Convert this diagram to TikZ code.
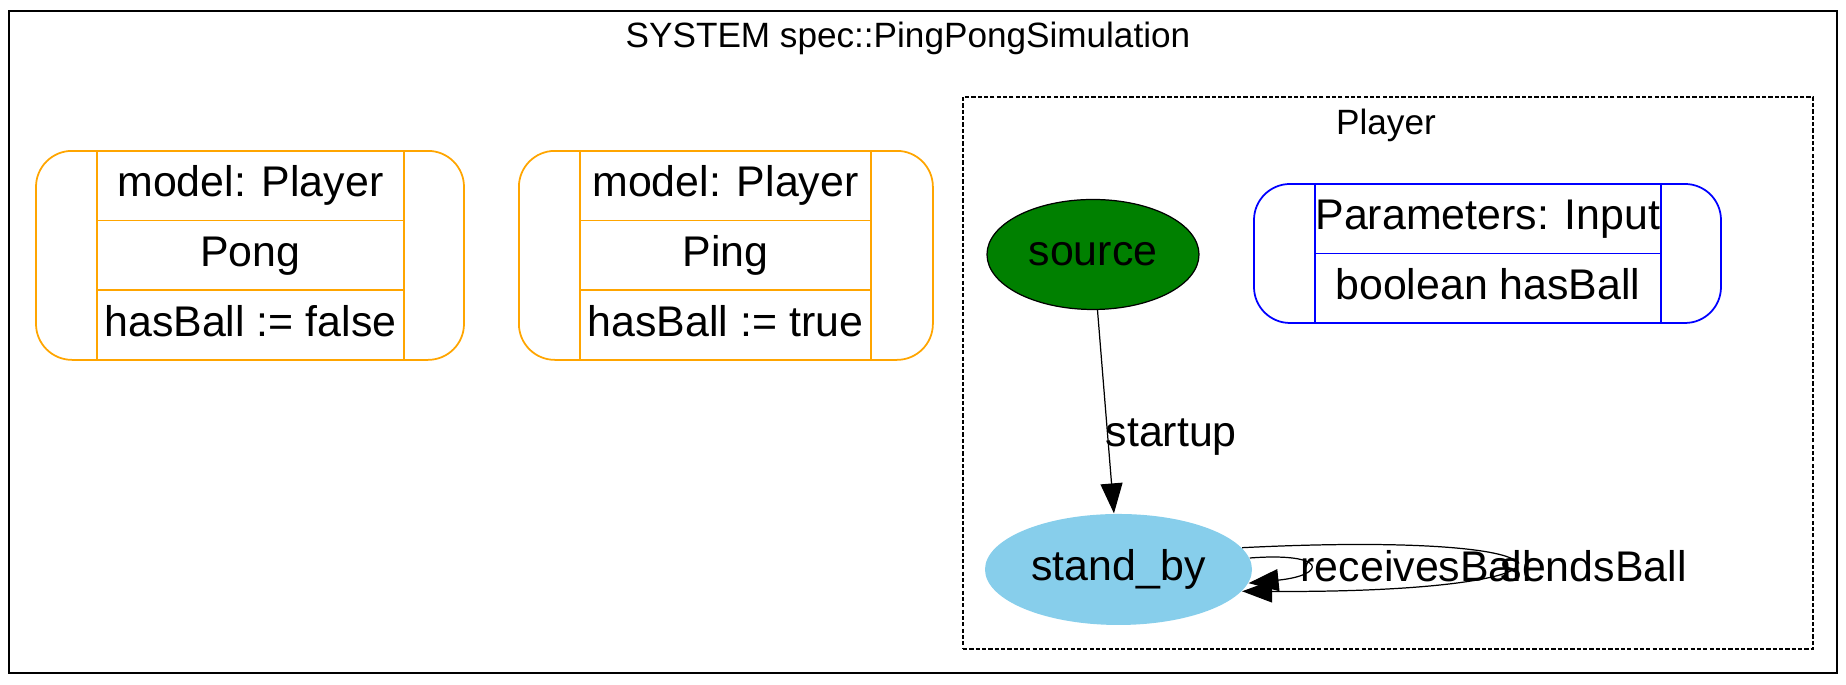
\documentclass[tikz,border=0pt]{standalone}
\usepackage{fontspec}
\setmainfont{Liberation Sans}
\usetikzlibrary{shapes.geometric,arrows.meta,positioning}
\definecolor{recordorange}{HTML}{FFA500}
\definecolor{sourcegreen}{HTML}{008000}
\definecolor{standbyblue}{HTML}{87CEEB}
\begin{document}
\begin{tikzpicture}[
    bigfont/.style={font=\fontsize{12.2}{14}\selectfont},
    smallfont/.style={font=\fontsize{10}{12}\selectfont},
    record/.style={draw=#1, rounded corners=0.36cm, line width=0.5pt, inner sep=0pt},
    field/.style={draw=#1, line width=0.5pt, inner sep=0pt, outer sep=0pt, minimum height=0.697cm, text height=0.325cm, text depth=0.10cm, bigfont},
    state/.style={ellipse, inner sep=0pt, line width=0.35pt, bigfont},
    trans/.style={-{Triangle[length=0.3cm, width=0.22cm]}, line width=0.35pt},
    translabel/.style={inner sep=0pt, bigfont}
]
    \useasboundingbox (0,0) rectangle (18.46,6.85);
    %   Outer frame of the system with its title
    \node[draw=black, line width=0.5pt, inner sep=0pt, minimum width=18.28cm, minimum height=6.62cm] (system) at (9.23,3.43) {};
    \node[smallfont, anchor=base] (systemtitle) at (9.08,6.37) {SYSTEM spec::PingPongSimulation};

    %   Record for the Pong player
    \node[record=recordorange, minimum width=4.28cm, minimum height=2.09cm] (pong) at (2.50,4.296) {};
    \node[field=recordorange, minimum width=3.07cm] (pongmodel) at (2.504,4.994) {model: Player};
    \node[field=recordorange, minimum width=3.07cm, below=0pt of pongmodel] (pongname) {Pong};
    \node[field=recordorange, minimum width=3.07cm, below=0pt of pongname] (pongvalue) {hasBall := false};

    %   Record for the Ping player
    \node[record=recordorange, minimum width=4.14cm, minimum height=2.09cm] (ping) at (7.259,4.296) {};
    \node[field=recordorange, minimum width=2.91cm] (pingmodel) at (7.254,4.994) {model: Player};
    \node[field=recordorange, minimum width=2.91cm, below=0pt of pingmodel] (pingname) {Ping};
    \node[field=recordorange, minimum width=2.91cm, below=0pt of pingname] (pingvalue) {hasBall := true};

    %   Dashed frame of the Player model
    \node[draw=black, line width=0.35pt, dash pattern=on 1.2pt off 0.6pt, inner sep=0pt, minimum width=8.50cm, minimum height=5.52cm] (player) at (13.88,3.12) {};
    \node[smallfont, anchor=base] (playertitle) at (13.86,5.50) {Player};

    %   Parameters of the model
    \node[record=blue, minimum width=4.67cm, minimum height=1.39cm] (params) at (14.875,4.315) {};
    \node[field=blue, minimum width=3.46cm] (paramshead) at (14.879,4.6625) {Parameters: Input};
    \node[field=blue, minimum width=3.46cm, below=0pt of paramshead] (paramsvar) {boolean hasBall};

    %   States
    \node[state, draw=black, fill=sourcegreen, minimum width=2.12cm, minimum height=1.10cm] (source) at (10.93,4.305) {source};
    \node[state, fill=standbyblue, minimum width=2.67cm, minimum height=1.11cm] (standby) at (11.185,1.155) {stand\_by};

    %   Transitions
    \draw[trans] (source) -- (standby);
    \node[translabel, anchor=base west] (startup) at (11.05,2.38) {startup};
    \draw[trans] (standby.10) .. controls +(3.62,0.18) and +(3.62,-0.02) .. (standby.-10);
    \draw[trans] (standby.5) .. controls +(0.78,0.06) and +(0.79,0.08) .. (standby.-6);
    \node[translabel, anchor=base west] (receivesball) at (13.00,1.033) {receivesBall};
    \node[translabel, anchor=base west] (sendsball) at (15.00,1.033) {sendsBall};
\end{tikzpicture}
\end{document}
